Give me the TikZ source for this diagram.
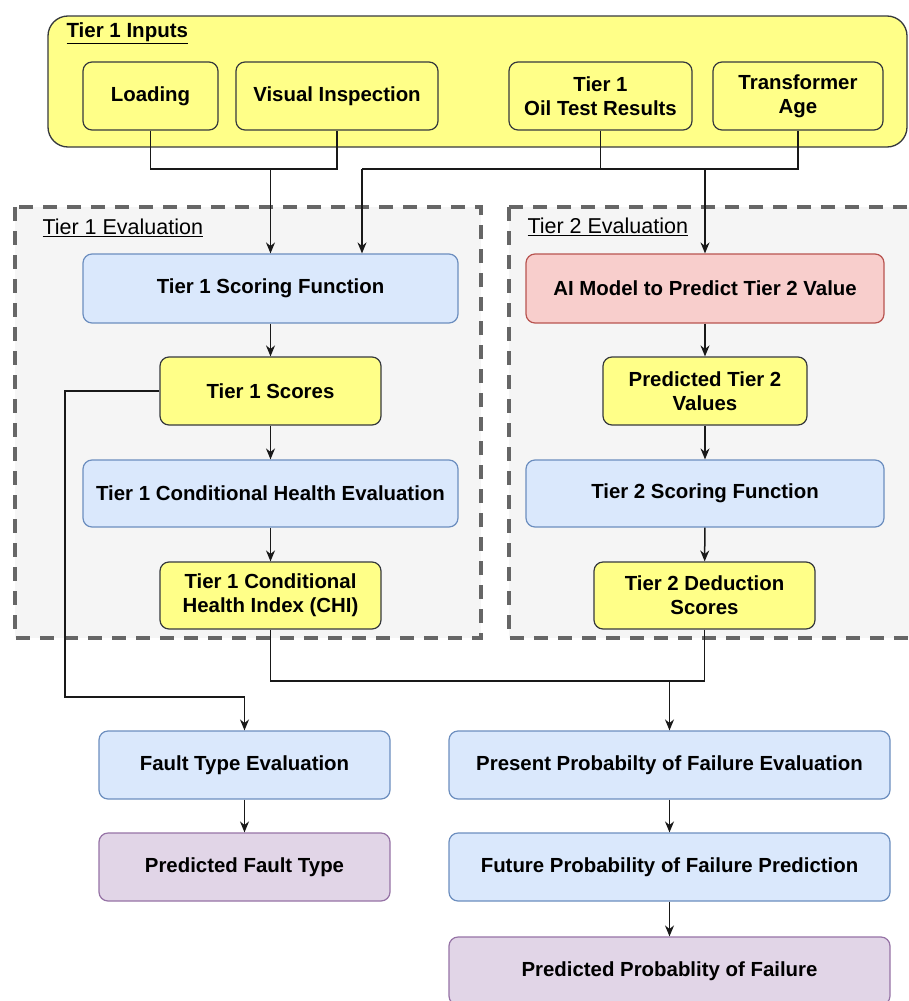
\documentclass[tikz,border=0pt]{standalone}
\usepackage{fontspec}
\setmainfont{Liberation Sans}
\usetikzlibrary{arrows.meta}
\definecolor{yelF}{HTML}{FFFF88}
\definecolor{yelD}{HTML}{36393D}
\definecolor{bluF}{HTML}{DAE8FC}
\definecolor{bluD}{HTML}{6C8EBF}
\definecolor{redF}{HTML}{F8CECC}
\definecolor{redD}{HTML}{B85450}
\definecolor{purF}{HTML}{E1D5E7}
\definecolor{purD}{HTML}{9673A6}
\definecolor{grpF}{HTML}{F5F5F5}
\definecolor{grpD}{HTML}{666666}
\tikzset{
  x=1pt, y=-1pt,
  nbox/.style={rounded corners=9pt, line width=1.2pt, align=center, inner sep=2pt,
    font=\bfseries\fontsize{20.4}{24}\selectfont, text=black},
  yel/.style={nbox, draw=yelD, fill=yelF},
  blu/.style={nbox, draw=bluD, fill=bluF},
  red/.style={nbox, draw=redD, fill=redF},
  pur/.style={nbox, draw=purD, fill=purF},
  grp/.style={draw=grpD, fill=grpF, line width=4.5pt, dash pattern=on 14pt off 10pt},
  conn/.style={draw=black!90, line width=1.5pt},
  arr/.style={conn, -{Stealth[length=11pt,width=9pt]}},
  glabel/.style={anchor=west, font=\fontsize{21.5}{24}\selectfont, text=black},
}
\begin{document}
\begin{tikzpicture}
\clip (0,0) rectangle (909,1001);
\fill[white] (0,0) rectangle (909,1001);

% containers
\draw[draw=yelD, fill=yelF, line width=1.3pt, rounded corners=20pt] (48,16) rectangle (907,147);
\node[glabel, font=\bfseries\fontsize{20.5}{24}\selectfont] (lin) at (63,33) {\underline{Tier 1 Inputs}};
\draw[grp] (15,207) rectangle (481,638);
\draw[grp] (509,207) rectangle (925,638);
\node[glabel] (l1e) at (39,228) {\underline{Tier 1 Evaluation}};
\node[glabel] (l2e) at (524,227) {\underline{Tier 2 Evaluation}};

% inputs
\node[yel, minimum width=135, minimum height=68] (load) at (150.5,96) {Loading};
\node[yel, minimum width=202, minimum height=68] (vis) at (337,96) {Visual Inspection};
\node[yel, minimum width=183, minimum height=68] (oil) at (600.5,96) {Tier 1\\Oil Test Results};
\node[yel, minimum width=170, minimum height=68] (age) at (798,96) {Transformer\\Age};

% tier 1 column
\node[blu, minimum width=375, minimum height=69] (t1sf) at (270.5,288.5) {Tier 1 Scoring Function};
\node[yel, minimum width=221, minimum height=68] (t1s) at (270.5,391) {Tier 1 Scores};
\node[blu, minimum width=375, minimum height=67] (t1che) at (270.5,493.5) {Tier 1 Conditional Health Evaluation};
\node[yel, minimum width=221, minimum height=67] (chi) at (270.5,595.5) {Tier 1 Conditional\\Health Index (CHI)};

% tier 2 column
\node[red, minimum width=358, minimum height=69] (ai) at (705,288.5) {AI Model to Predict Tier 2 Value};
\node[yel, minimum width=204, minimum height=68] (pt2) at (705,391) {Predicted Tier 2\\Values};
\node[blu, minimum width=358, minimum height=67] (t2sf) at (705,493.5) {Tier 2 Scoring Function};
\node[yel, minimum width=221, minimum height=67] (t2d) at (704.5,595.5) {Tier 2 Deduction\\Scores};

% bottom
\node[blu, minimum width=291, minimum height=68] (fte) at (244.5,765) {Fault Type Evaluation};
\node[pur, minimum width=291, minimum height=68] (pft) at (244.5,867) {Predicted Fault Type};
\node[blu, minimum width=441, minimum height=68] (ppfe) at (669.5,765) {Present Probabilty of Failure Evaluation};
\node[blu, minimum width=441, minimum height=68] (fpfp) at (669.5,867) {Future Probability of Failure Prediction};
\node[pur, minimum width=441, minimum height=68] (ppf) at (669.5,971) {Predicted Probablity of Failure};

% junctions
\coordinate (j1) at (270.5,169);
\coordinate (j2) at (600.5,169);
\coordinate (j3) at (362,169);
\coordinate (j4) at (705,169);
\coordinate (k1) at (65,697);
\coordinate (k2) at (669.5,681);

% connectors top
\draw[conn] (load.south) |- (j1) -| (vis.south);
\draw[arr] (j1) -- (t1sf.north);
\draw[conn] (oil.south) -- (j2);
\draw[conn] (age.south) |- (j3);
\draw[arr] (j3) -- (j3 |- t1sf.north);
\draw[arr] (j4) -- (ai.north);

% columns
\draw[arr] (t1sf) -- (t1s);
\draw[arr] (t1s) -- (t1che);
\draw[arr] (t1che) -- (chi);
\draw[arr] (ai) -- (pt2);
\draw[arr] (pt2) -- (t2sf);
\draw[arr] (t2sf) -- (t2d);

% lower
\draw[arr] (t1s.west) -| (k1) -| (fte.north);
\draw[conn] (chi.south) |- (k2);
\draw[conn] (t2d.south) |- (k2);
\draw[arr] (k2) -- (ppfe.north);
\draw[arr] (fte) -- (pft);
\draw[arr] (ppfe) -- (fpfp);
\draw[arr] (fpfp) -- (ppf);
\end{tikzpicture}
\end{document}
